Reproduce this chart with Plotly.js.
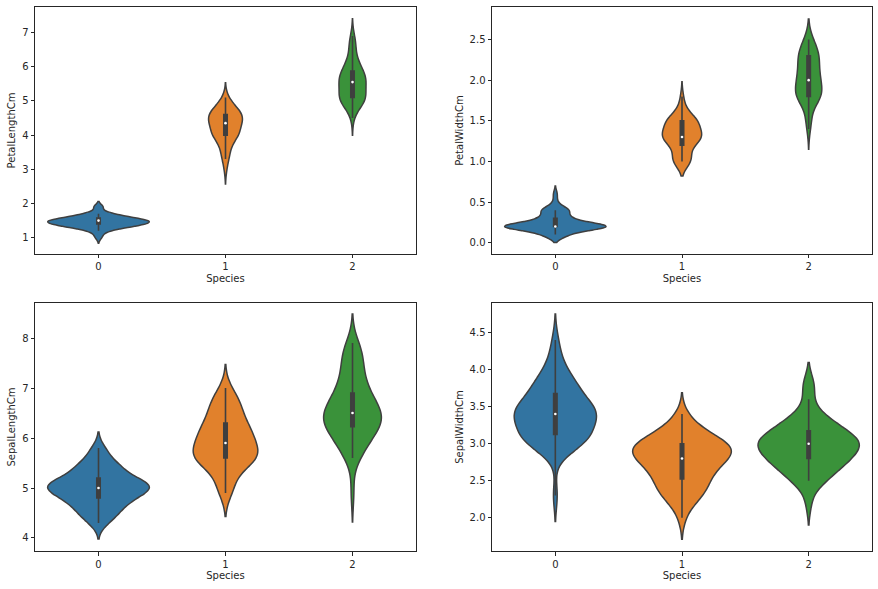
<!DOCTYPE html>
<html>
<head>
<meta charset="utf-8">
<script src="https://cdn.plot.ly/plotly-3.0.1.min.js"></script>
<style>
  html, body { margin: 0; padding: 0; background: #fff; }
  #myDiv { width: 878px; height: 589px; }
</style>
</head>
<body>
<div id="myDiv"></div>
<script>
// iris, one array per species and column (0 = setosa, 1 = versicolor, 2 = virginica)
const species = [0, 1, 2]
const speciesLabels = ["0", "1", "2"]

const sepalLength0 = [5.1,4.9,4.7,4.6,5.0,5.4,4.6,5.0,4.4,4.9,5.4,4.8,4.8,4.3,5.8,5.7,5.4,5.1,5.7,5.1,5.4,5.1,4.6,5.1,4.8,5.0,5.0,5.2,5.2,4.7,4.8,5.4,5.2,5.5,4.9,5.0,5.5,4.9,4.4,5.1,5.0,4.5,4.4,5.0,5.1,4.8,5.1,4.6,5.3,5.0]
const sepalWidth0 = [3.5,3.0,3.2,3.1,3.6,3.9,3.4,3.4,2.9,3.1,3.7,3.4,3.0,3.0,4.0,4.4,3.9,3.5,3.8,3.8,3.4,3.7,3.6,3.3,3.4,3.0,3.4,3.5,3.4,3.2,3.1,3.4,4.1,4.2,3.1,3.2,3.5,3.1,3.0,3.4,3.5,2.3,3.2,3.5,3.8,3.0,3.8,3.2,3.7,3.3]
const petalLength0 = [1.4,1.4,1.3,1.5,1.4,1.7,1.4,1.5,1.4,1.5,1.5,1.6,1.4,1.1,1.2,1.5,1.3,1.4,1.7,1.5,1.7,1.5,1.0,1.7,1.9,1.6,1.6,1.5,1.4,1.6,1.6,1.5,1.5,1.4,1.5,1.2,1.3,1.5,1.3,1.5,1.3,1.3,1.3,1.6,1.9,1.4,1.6,1.4,1.5,1.4]
const petalWidth0 = [0.2,0.2,0.2,0.2,0.2,0.4,0.3,0.2,0.2,0.1,0.2,0.2,0.1,0.1,0.2,0.4,0.4,0.3,0.3,0.3,0.2,0.4,0.2,0.5,0.2,0.2,0.4,0.2,0.2,0.2,0.2,0.4,0.1,0.2,0.1,0.2,0.2,0.1,0.2,0.2,0.3,0.3,0.2,0.6,0.4,0.3,0.2,0.2,0.2,0.2]

const sepalLength1 = [7.0,6.4,6.9,5.5,6.5,5.7,6.3,4.9,6.6,5.2,5.0,5.9,6.0,6.1,5.6,6.7,5.6,5.8,6.2,5.6,5.9,6.1,6.3,6.1,6.4,6.6,6.8,6.7,6.0,5.7,5.5,5.5,5.8,6.0,5.4,6.0,6.7,6.3,5.6,5.5,5.5,6.1,5.8,5.0,5.6,5.7,5.7,6.2,5.1,5.7]
const sepalWidth1 = [3.2,3.2,3.1,2.3,2.8,2.8,3.3,2.4,2.9,2.7,2.0,3.0,2.2,2.9,2.9,3.1,3.0,2.7,2.2,2.5,3.2,2.8,2.5,2.8,2.9,3.0,2.8,3.0,2.9,2.6,2.4,2.4,2.7,2.7,3.0,3.4,3.1,2.3,3.0,2.5,2.6,3.0,2.6,2.3,2.7,3.0,2.9,2.9,2.5,2.8]
const petalLength1 = [4.7,4.5,4.9,4.0,4.6,4.5,4.7,3.3,4.6,3.9,3.5,4.2,4.0,4.7,3.6,4.4,4.5,4.1,4.5,3.9,4.8,4.0,4.9,4.7,4.3,4.4,4.8,5.0,4.5,3.5,3.8,3.7,3.9,5.1,4.5,4.5,4.7,4.4,4.1,4.0,4.4,4.6,4.0,3.3,4.2,4.2,4.2,4.3,3.0,4.1]
const petalWidth1 = [1.4,1.5,1.5,1.3,1.5,1.3,1.6,1.0,1.3,1.4,1.0,1.5,1.0,1.4,1.3,1.4,1.5,1.0,1.5,1.1,1.8,1.3,1.5,1.2,1.3,1.4,1.4,1.7,1.5,1.0,1.1,1.0,1.2,1.6,1.5,1.6,1.5,1.3,1.3,1.3,1.2,1.4,1.2,1.0,1.3,1.2,1.3,1.3,1.1,1.3]

const sepalLength2 = [6.3,5.8,7.1,6.3,6.5,7.6,4.9,7.3,6.7,7.2,6.5,6.4,6.8,5.7,5.8,6.4,6.5,7.7,7.7,6.0,6.9,5.6,7.7,6.3,6.7,7.2,6.2,6.1,6.4,7.2,7.4,7.9,6.4,6.3,6.1,7.7,6.3,6.4,6.0,6.9,6.7,6.9,5.8,6.8,6.7,6.7,6.3,6.5,6.2,5.9]
const sepalWidth2 = [3.3,2.7,3.0,2.9,3.0,3.0,2.5,2.9,2.5,3.6,3.2,2.7,3.0,2.5,2.8,3.2,3.0,3.8,2.6,2.2,3.2,2.8,2.8,2.7,3.3,3.2,2.8,3.0,2.8,3.0,2.8,3.8,2.8,2.8,2.6,3.0,3.4,3.1,3.0,3.1,3.1,3.1,2.7,3.2,3.3,3.0,2.5,3.0,3.4,3.0]
const petalLength2 = [6.0,5.1,5.9,5.6,5.8,6.6,4.5,6.3,5.8,6.1,5.1,5.3,5.5,5.0,5.1,5.3,5.5,6.7,6.9,5.0,5.7,4.9,6.7,4.9,5.7,6.0,4.8,4.9,5.6,5.8,6.1,6.4,5.6,5.1,5.6,6.1,5.6,5.5,4.8,5.4,5.6,5.1,5.1,5.9,5.7,5.2,5.0,5.2,5.4,5.1]
const petalWidth2 = [2.5,1.9,2.1,1.8,2.2,2.1,1.7,1.8,1.8,2.5,2.0,1.9,2.1,2.0,2.4,2.3,1.8,2.2,2.3,1.5,2.3,2.0,2.0,1.8,2.1,1.8,1.8,1.8,2.1,1.6,1.9,2.0,2.2,1.5,1.4,2.3,2.4,1.8,1.8,2.1,2.4,2.3,1.9,2.3,2.5,2.3,1.9,2.0,2.3,1.8]

const cores = ["#3274a1", "#e1812c", "#3a923a"]
const cinza = "#3f3f3f"

// seaborn usa kde com bandwidth de scott
function scott(a) {
  const n = a.length
  const media = a.reduce((s, v) => s + v, 0) / n
  const variancia = a.reduce((s, v) => s + (v - media) ** 2, 0) / (n - 1)
  return Math.sqrt(variancia) * Math.pow(n, -0.2)
}

// percentil linear igual ao np.percentile
function percentil(a, p) {
  const s = [...a].sort((u, v) => u - v)
  const pos = (s.length - 1) * p
  const i = Math.floor(pos)
  const f = pos - i
  return i + 1 < s.length ? s[i] + f * (s[i + 1] - s[i]) : s[i]
}

// caixinha interna: quartis e bigodes ate o ultimo dado dentro de 1.5 IQR
function caixa(a) {
  const q1 = percentil(a, 0.25)
  const q3 = percentil(a, 0.75)
  const iqr = q3 - q1
  const dentro = a.filter((v) => v >= q1 - 1.5 * iqr && v <= q3 + 1.5 * iqr)
  return {
    q1: q1,
    q3: q3,
    med: percentil(a, 0.5),
    lf: Math.min(...dentro),
    uf: Math.max(...dentro),
  }
}

const paineis = [
  { eixo: "", titulo: "PetalLengthCm", grupos: [petalLength0, petalLength1, petalLength2], range: [0.524, 7.747], dtick: 1, fmt: "d" },
  { eixo: "2", titulo: "PetalWidthCm", grupos: [petalWidth0, petalWidth1, petalWidth2], range: [-0.139, 2.9], dtick: 0.5, fmt: ".1f" },
  { eixo: "3", titulo: "SepalLengthCm", grupos: [sepalLength0, sepalLength1, sepalLength2], range: [3.739, 8.703], dtick: 1, fmt: "d" },
  { eixo: "4", titulo: "SepalWidthCm", grupos: [sepalWidth0, sepalWidth1, sepalWidth2], range: [1.553, 4.898], dtick: 0.5, fmt: ".1f" },
]

const data = []
paineis.forEach((p) => {
  p.grupos.forEach((valores, i) => {
    data.push({
      type: "violin",
      y: valores,
      x0: species[i],
      xaxis: "x" + p.eixo,
      yaxis: "y" + p.eixo,
      bandwidth: scott(valores),
      spanmode: "soft",
      scalegroup: "g" + p.eixo,
      scalemode: "width",
      points: false,
      fillcolor: cores[i],
      line: { color: cinza, width: 1.5 },
      box: { visible: false },
      meanline: { visible: false },
      hoverinfo: "skip",
      showlegend: false,
    })
  })
  const cx = p.grupos.map(caixa)
  data.push({
    type: "box",
    x: species,
    q1: cx.map((c) => c.q1),
    median: cx.map((c) => c.med),
    q3: cx.map((c) => c.q3),
    lowerfence: cx.map((c) => c.lf),
    upperfence: cx.map((c) => c.uf),
    xaxis: "x" + p.eixo,
    yaxis: "y" + p.eixo,
    width: 0.027,
    whiskerwidth: 0,
    boxpoints: false,
    fillcolor: cinza,
    line: { color: cinza, width: 1.6 },
    hoverinfo: "skip",
    showlegend: false,
  })
  data.push({
    type: "scatter",
    mode: "markers",
    x: species,
    y: cx.map((c) => c.med),
    xaxis: "x" + p.eixo,
    yaxis: "y" + p.eixo,
    marker: { color: "#ffffff", size: 2.6 },
    hoverinfo: "skip",
    showlegend: false,
  })
})

const fonte = { family: "DejaVu Sans, sans-serif", size: 10, color: "#262626" }

function eixoX(dominio, ancora) {
  return {
    domain: dominio,
    anchor: ancora,
    range: [-0.5, 2.5],
    tickvals: species,
    ticktext: speciesLabels,
    ticks: "outside",
    ticklen: 3.5,
    tickwidth: 1,
    tickcolor: "#262626",
    showline: true,
    mirror: true,
    linecolor: "#262626",
    linewidth: 1,
    showgrid: false,
    zeroline: false,
    tickfont: fonte,
    title: { text: "Species", font: fonte, standoff: 3 },
  }
}

function eixoY(dominio, ancora, p) {
  return {
    domain: dominio,
    anchor: ancora,
    range: p.range,
    dtick: p.dtick,
    tickformat: p.fmt,
    ticks: "outside",
    ticklen: 3.5,
    tickwidth: 1,
    tickcolor: "#262626",
    showline: true,
    mirror: true,
    linecolor: "#262626",
    linewidth: 1,
    showgrid: false,
    zeroline: false,
    tickfont: fonte,
    title: { text: p.titulo, font: fonte, standoff: 4 },
  }
}

const colEsq = [0, 0.4552]
const colDir = [0.546, 1]
const linCima = [0.546, 1]
const linBaixo = [0, 0.4559]

const layout = {
  width: 878,
  height: 589,
  margin: { l: 35, r: 6, t: 7, b: 38 },
  paper_bgcolor: "#ffffff",
  plot_bgcolor: "#ffffff",
  violinmode: "overlay",
  violingap: 0.2,
  violingroupgap: 0,
  boxmode: "overlay",
  hovermode: false,
  showlegend: false,
  font: fonte,
  xaxis: eixoX(colEsq, "y"),
  yaxis: eixoY(linCima, "x", paineis[0]),
  xaxis2: eixoX(colDir, "y2"),
  yaxis2: eixoY(linCima, "x2", paineis[1]),
  xaxis3: eixoX(colEsq, "y3"),
  yaxis3: eixoY(linBaixo, "x3", paineis[2]),
  xaxis4: eixoX(colDir, "y4"),
  yaxis4: eixoY(linBaixo, "x4", paineis[3]),
}

Plotly.newPlot("myDiv", data, layout, { staticPlot: true })
</script>
</body>
</html>
